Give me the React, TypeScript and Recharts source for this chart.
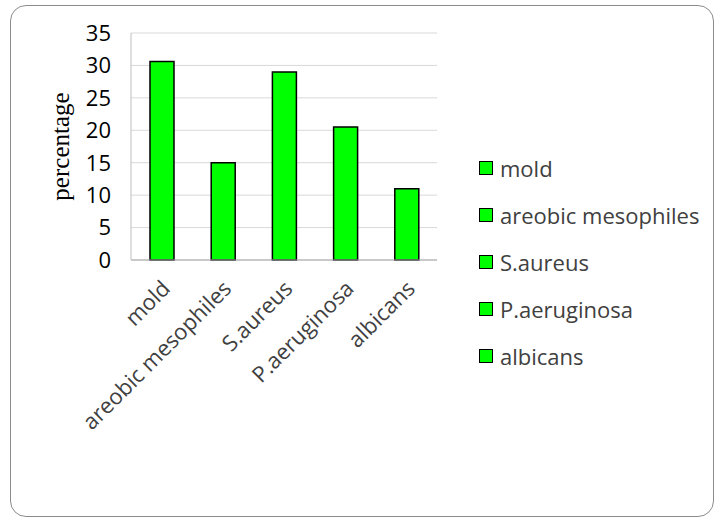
import { Bar, BarChart, CartesianGrid, XAxis, YAxis } from 'recharts'

const categories = ['mold', 'areobic mesophiles', 'S.aureus', 'P.aeruginosa', 'albicans']
const percentages = [30.6, 15, 29, 20.5, 11]
const yTicks = [0, 5, 10, 15, 20, 25, 30, 35]

const data = categories.map((name, i) => ({ name, value: percentages[i] }))

const font = '"Open Sans", sans-serif'
const green = '#00ff00'

function XTick({ x, y, payload }: any) {
  const tx = x + 10
  const ty = y + 22
  return (
    <text
      x={tx}
      y={ty}
      transform={`rotate(-45 ${tx} ${ty})`}
      textAnchor="end"
      fontSize={22}
      fontFamily={font}
      fill="#404040"
    >
      {payload.value}
    </text>
  )
}

function LegendList() {
  return (
    <div
      style={{
        position: 'absolute',
        left: 479,
        top: 144,
        fontFamily: font,
        fontSize: 22,
        color: '#404040',
      }}
    >
      {categories.map((name) => (
        <div key={name} style={{ display: 'flex', alignItems: 'center', height: 47 }}>
          <span
            style={{
              width: 12,
              height: 12,
              background: green,
              border: '1px solid #000',
              marginRight: 7,
            }}
          />
          <span>{name}</span>
        </div>
      ))}
    </div>
  )
}

export default function App() {
  return (
    <div style={{ position: 'absolute', left: 0, top: 0, width: 717, height: 519, background: '#fff' }}>
      <div
        style={{
          position: 'absolute',
          left: 10,
          top: 5,
          width: 702,
          height: 510,
          border: '1px solid #8c8c8c',
          borderRadius: 16,
        }}
      />
      <BarChart
        width={717}
        height={519}
        data={data}
        margin={{ top: 33, right: 280, left: 50, bottom: 139 }}
        style={{ position: 'absolute', left: 0, top: 0 }}
      >
        <CartesianGrid vertical={false} stroke="#d9d9d9" />
        <XAxis
          dataKey="name"
          interval={0}
          height={120}
          tick={<XTick />}
          tickLine={false}
          axisLine={{ stroke: '#a6a6a6' }}
        />
        <YAxis
          domain={[0, 35]}
          ticks={yTicks}
          width={81}
          tickLine={false}
          tickSize={0}
          tickMargin={20}
          axisLine={{ stroke: '#bfbfbf' }}
          tick={{ fontSize: 22, fontFamily: font, fill: '#000' }}
          label={{
            value: 'percentage',
            angle: -90,
            position: 'insideLeft',
            offset: 0,
            dx: 10,
            style: { fontFamily: '"Liberation Serif", serif', fontSize: 25, fill: '#000', textAnchor: 'middle' },
          }}
        />
        <Bar dataKey="value" fill={green} stroke="#000" strokeWidth={1.5} barSize={24} isAnimationActive={false} />
      </BarChart>
      <LegendList />
    </div>
  )
}
